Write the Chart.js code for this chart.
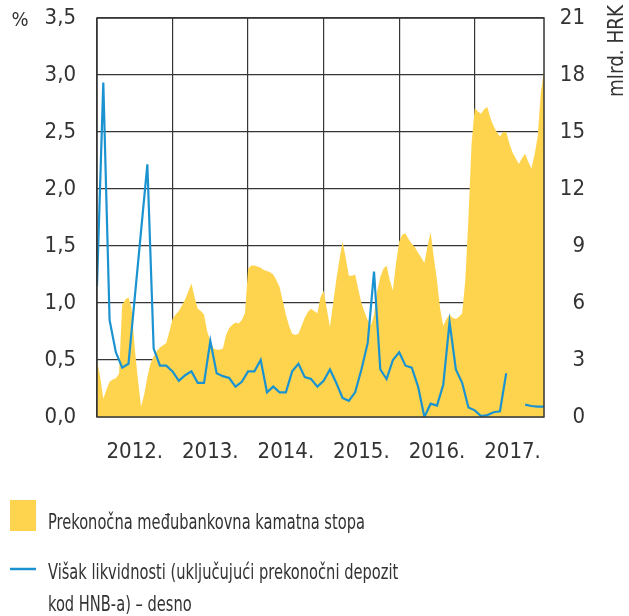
<!DOCTYPE html>
<html>
<head>
<meta charset="utf-8">
<script src="https://cdn.jsdelivr.net/npm/chart.js@4.4.1/dist/chart.umd.min.js"></script>
<style>
  html, body { margin: 0; padding: 0; background: #ffffff; }
  #wrap { width: 629px; height: 616px; position: relative; }
</style>
</head>
<body>
<div id="wrap"><canvas id="c" width="629" height="616"></canvas></div>
<script>
// ---------- DATA ----------
const yearLabels = ['2012.', '2013.', '2014.', '2015.', '2016.', '2017.'];
const leftTickValues = [0, 0.5, 1, 1.5, 2, 2.5, 3, 3.5];
const rightTickValues = [0, 3, 6, 9, 12, 15, 18, 21];

// Prekonočna međubankovna kamatna stopa (%), half-monthly, Jan 2012 – Dec 2017
const overnightRate = [
  0.50, 0.35, 0.16, 0.24, 0.31, 0.33, 0.34, 0.38, 0.98, 1.03,
  1.05, 0.95, 0.60, 0.33, 0.09, 0.20, 0.35, 0.47, 0.53, 0.58,
  0.61, 0.63, 0.65, 0.75, 0.86, 0.90, 0.93, 0.98, 1.03, 1.10,
  1.17, 1.05, 0.95, 0.93, 0.90, 0.75, 0.67, 0.60, 0.59, 0.59,
  0.60, 0.72, 0.78, 0.81, 0.83, 0.82, 0.85, 0.91, 1.30, 1.33,
  1.33, 1.32, 1.31, 1.29, 1.28, 1.27, 1.25, 1.20, 1.14, 1.02,
  0.90, 0.80, 0.73, 0.72, 0.73, 0.80, 0.87, 0.92, 0.95, 0.93,
  0.91, 1.05, 1.11, 0.95, 0.79, 1.00, 1.20, 1.38, 1.54, 1.40,
  1.24, 1.24, 1.25, 1.12, 1.00, 0.92, 0.85, 0.80, 0.90, 1.10,
  1.23, 1.30, 1.33, 1.20, 1.11, 1.35, 1.54, 1.60, 1.61, 1.56,
  1.52, 1.49, 1.44, 1.40, 1.35, 1.50, 1.62, 1.40, 1.20, 0.95,
  0.80, 0.86, 0.90, 0.87, 0.86, 0.88, 0.91, 1.20, 1.75, 2.40,
  2.71, 2.68, 2.66, 2.70, 2.72, 2.62, 2.55, 2.50, 2.46, 2.50,
  2.50, 2.40, 2.32, 2.27, 2.22, 2.27, 2.31, 2.24, 2.18, 2.30,
  2.46, 2.85, 3.03
];

// Višak likvidnosti (mlrd. HRK), monthly, Jan 2012 – Dec 2017 (desno)
const excessLiquidity = [
  6.9, 17.6, 5.1, 3.4, 2.6, 2.8, 6.3, 9.8, 13.3, 3.6, 2.7, 2.7,
  2.4, 1.9, 2.2, 2.4, 1.8, 1.8, 4.0, 2.3, 2.15, 2.05, 1.6, 1.85,
  2.4, 2.4, 3.0, 1.3, 1.6, 1.3, 1.3, 2.4, 2.8, 2.1, 2.0, 1.6,
  1.9, 2.5, 1.8, 1.0, 0.85, 1.3, 2.5, 3.9, 7.65, 2.5, 2.0, 3.0,
  3.4, 2.7, 2.6, 1.6, 0.0, 0.7, 0.6, 1.7, 5.0, 2.5, 1.8, 0.5,
  0.35, 0.05, 0.1, 0.25, 0.3, 2.3, null, null, 0.65, 0.58, 0.55, 0.55
];

const legendRate = 'Prekonočna međubankovna kamatna stopa';
const legendLiquidity = ['Višak likvidnosti (uključujući prekonočni depozit', 'kod HNB-a) – desno'];
const leftUnit = '%';
const rightUnit = 'mlrd. HRK';

// ---------- STYLE ----------
const FONT = '"Liberation Sans Narrow", "Arial Narrow", "DejaVu Sans Condensed", sans-serif';
const TEXT = '#333333';
const GRID = '#363636';
const YELLOW = '#FED44E';
const BLUE = '#1B93D1';

const ratePoints = overnightRate.map((v, i) => ({ x: i / 2, y: v }));
const liqPoints = excessLiquidity.map((v, i) => ({ x: i, y: v }));

const framePlugin = {
  id: 'frame',
  afterDatasetsDraw(chart) {
    const { ctx, chartArea: a } = chart;
    ctx.save();
    ctx.strokeStyle = GRID;
    ctx.lineWidth = 1.5;
    ctx.strokeRect(a.left, a.top, a.right - a.left, a.bottom - a.top);
    ctx.restore();
  }
};

const textPlugin = {
  id: 'texts',
  afterDraw(chart) {
    const ctx = chart.ctx;
    ctx.save();
    ctx.fillStyle = TEXT;
    ctx.font = '20px ' + FONT;
    ctx.textAlign = 'center';
    ctx.textBaseline = 'middle';
    ctx.fillText(leftUnit, 20, 21);
    // right unit, rotated (reads bottom to top)
    ctx.save();
    ctx.translate(617, 51);
    ctx.rotate(-Math.PI / 2);
    ctx.font = '22px ' + FONT;
    const rw = ctx.measureText(rightUnit).width;
    const rk = Math.min(1, 92 / rw);
    ctx.scale(rk, 1);
    ctx.fillText(rightUnit, 0, 0);
    ctx.restore();
    // legend
    ctx.fillStyle = YELLOW;
    ctx.fillRect(10, 500, 26, 31);
    ctx.strokeStyle = BLUE;
    ctx.lineWidth = 2.5;
    ctx.beginPath();
    ctx.moveTo(10, 569);
    ctx.lineTo(36, 569);
    ctx.stroke();
    ctx.fillStyle = TEXT;
    ctx.font = '22px ' + FONT;
    ctx.textAlign = 'left';
    ctx.textBaseline = 'alphabetic';
    const k = 317 / ctx.measureText(legendRate).width;
    [[legendRate, 529], [legendLiquidity[0], 579], [legendLiquidity[1], 611]].forEach(([t, y]) => {
      ctx.save();
      ctx.translate(48, y);
      ctx.scale(k, 1);
      ctx.fillText(t, 0, 0);
      ctx.restore();
    });
    ctx.restore();
  }
};

function noVPad(s) { s.paddingTop = 0; s.paddingBottom = 0; }

new Chart(document.getElementById('c'), {
  type: 'line',
  data: {
    datasets: [
      {
        label: legendLiquidity.join(' '),
        data: liqPoints,
        yAxisID: 'yR',
        xAxisID: 'x',
        borderColor: BLUE,
        borderWidth: 2.2,
        pointRadius: 0,
        fill: false,
        tension: 0,
        spanGaps: false,
        order: 0
      },
      {
        label: legendRate,
        data: ratePoints,
        yAxisID: 'yL',
        xAxisID: 'x',
        backgroundColor: YELLOW,
        borderWidth: 0,
        borderColor: YELLOW,
        pointRadius: 0,
        fill: 'origin',
        tension: 0,
        order: 1
      }
    ]
  },
  options: {
    responsive: false,
    animation: false,
    events: [],
    layout: { padding: { top: 18, bottom: 149, left: 0, right: 44 } },
    plugins: { legend: { display: false }, tooltip: { enabled: false } },
    scales: {
      x: {
        type: 'linear', position: 'bottom', min: 0, max: 71,
        afterBuildTicks(s) { s.ticks = [0, 12, 24, 36, 48, 60].map(v => ({ value: v })); },
        grid: { color: GRID, lineWidth: 1.2, drawTicks: false },
        border: { display: false },
        ticks: { display: false },
        afterFit(s) { s.height = 0; s.paddingLeft = 0; s.paddingRight = 0; }
      },
      xl: {
        type: 'linear', position: 'bottom', min: 0, max: 71,
        afterBuildTicks(s) { s.ticks = yearLabels.map((_, i) => ({ value: 6 + 12 * i })); },
        grid: { display: false, drawTicks: false },
        border: { display: false },
        ticks: {
          autoSkip: false, maxRotation: 0, padding: 22, color: TEXT,
          font: { family: FONT, size: 22 },
          callback: (v) => yearLabels[Math.round((v - 6) / 12)]
        },
        afterFit(s) { s.height = 50; s.paddingLeft = 0; s.paddingRight = 0; }
      },
      yL: {
        position: 'left', min: 0, max: 3.5,
        afterBuildTicks(s) { s.ticks = leftTickValues.map(v => ({ value: v })); },
        grid: { color: GRID, lineWidth: 1.2, drawTicks: false },
        border: { display: false },
        ticks: {
          padding: 21, color: TEXT, font: { family: FONT, size: 22 },
          callback: (v) => v.toFixed(1).replace('.', ',')
        },
        afterFit(s) { s.width = 97; noVPad(s); }
      },
      yR: {
        position: 'right', min: 0, max: 21,
        afterBuildTicks(s) { s.ticks = rightTickValues.map(v => ({ value: v })); },
        grid: { display: false, drawTicks: false },
        border: { display: false },
        ticks: {
          padding: 19, color: TEXT, crossAlign: 'far', font: { family: FONT, size: 22 },
          callback: (v) => String(v)
        },
        afterFit(s) { s.width = 41; noVPad(s); }
      }
    }
  },
  plugins: [framePlugin, textPlugin]
});
</script>
</body>
</html>
